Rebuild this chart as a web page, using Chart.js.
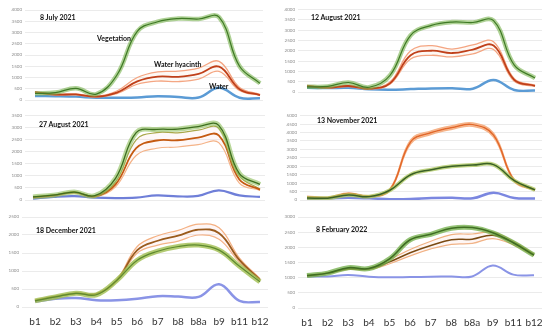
<!DOCTYPE html>
<html>
<head>
<meta charset="utf-8">
<script src="https://cdn.jsdelivr.net/npm/chart.js@4"></script>
<style>
body { margin: 0; background: #fff; width: 550px; height: 328px; position: relative; overflow: hidden; font-family: Lato, "Open Sans", sans-serif; }
.box { position: absolute; }
.note { position: absolute; font-weight: bold; font-size: 7px; line-height: 1; color: #111; white-space: nowrap; }
</style>
</head>
<body>
<div class="box" id="b1" style="left:0;top:0;width:275px;height:110px"><canvas id="c1"></canvas></div>
<div class="box" id="b2" style="left:275px;top:0;width:275px;height:110px"><canvas id="c2"></canvas></div>
<div class="box" id="b3" style="left:0;top:110px;width:275px;height:100px"><canvas id="c3"></canvas></div>
<div class="box" id="b4" style="left:275px;top:110px;width:275px;height:100px"><canvas id="c4"></canvas></div>
<div class="box" id="b5" style="left:0;top:210px;width:275px;height:118px"><canvas id="c5"></canvas></div>
<div class="box" id="b6" style="left:275px;top:210px;width:275px;height:118px"><canvas id="c6"></canvas></div>

<div class="note" style="left:40px;top:14px">8 July 2021</div>
<div class="note" style="left:97px;top:34.5px">Vegetation</div>
<div class="note" style="left:154px;top:60.5px">Water hyacinth</div>
<div class="note" style="left:209px;top:82.5px">Water</div>
<div class="note" style="left:311px;top:13.5px">12 August 2021</div>
<div class="note" style="left:39px;top:120.5px">27 August 2021</div>
<div class="note" style="left:317px;top:116.5px">13 November 2021</div>
<div class="note" style="left:36px;top:226.5px">18 December 2021</div>
<div class="note" style="left:316px;top:225.5px">8 February 2022</div>

<script>
// Sentinel-2 bands
var bands = ['b1', 'b2', 'b3', 'b4', 'b5', 'b6', 'b7', 'b8', 'b8a', 'b9', 'b11', 'b12'];

// 8 July 2021
var jul8Veg    = [290, 330, 520, 260, 1100, 3050, 3480, 3620, 3600, 3680, 1500, 740];
var jul8Hya    = [350, 240, 250, 150, 330, 830, 1040, 1030, 1160, 1480, 480, 220];
var jul8HyaHi  = [370, 260, 270, 170, 400, 1000, 1250, 1280, 1420, 1720, 560, 250];
var jul8HyaLo  = [320, 220, 230, 130, 280, 700, 840, 820, 930, 1270, 420, 200];
var jul8Water  = [180, 170, 150, 100, 100, 110, 170, 130, 110, 540, 100, 80];

// 12 August 2021
var aug12Veg   = [250, 270, 460, 230, 800, 2750, 3230, 3390, 3370, 3460, 1300, 680];
var aug12Hya   = [290, 210, 290, 160, 420, 1780, 2000, 1890, 2060, 2250, 590, 300];
var aug12HyaHi = [320, 230, 320, 180, 480, 2000, 2250, 2080, 2280, 2440, 650, 330];
var aug12HyaLo = [270, 190, 260, 140, 380, 1600, 1780, 1700, 1850, 2060, 520, 270];
var aug12Water = [200, 190, 200, 130, 110, 140, 170, 180, 160, 580, 100, 70];

// 27 August 2021
var aug27Veg   = [130, 200, 330, 180, 900, 2800, 2930, 2940, 3050, 3100, 1100, 650];
var aug27Hya   = [110, 190, 320, 150, 650, 2150, 2470, 2480, 2590, 2680, 850, 430];
var aug27HyaHi = [140, 210, 350, 170, 750, 2500, 2800, 2790, 2900, 2980, 1000, 460];
var aug27HyaLo = [90, 170, 290, 130, 550, 1850, 2150, 2200, 2300, 2380, 700, 400];
var aug27Water = [60, 130, 160, 100, 80, 100, 190, 150, 170, 400, 190, 130];

// 13 November 2021
var nov13Veg   = [120, 110, 300, 200, 580, 1500, 1800, 2000, 2070, 2100, 1150, 600];
var nov13Hya   = [180, 140, 380, 220, 600, 3450, 4000, 4300, 4470, 3850, 1150, 600];
var nov13HyaHi = [220, 170, 420, 250, 650, 3560, 4100, 4400, 4570, 3960, 1200, 620];
var nov13HyaLo = [150, 120, 340, 190, 560, 3340, 3900, 4200, 4370, 3740, 1100, 580];
var nov13Water = [40, 100, 130, 100, 50, 60, 120, 140, 100, 430, 120, 90];

// 18 December 2021
var dec18Veg   = [170, 280, 380, 340, 740, 1300, 1550, 1680, 1720, 1580, 1130, 700];
var dec18Hya   = [180, 290, 380, 360, 740, 1580, 1840, 1980, 2150, 2050, 1300, 760];
var dec18HyaHi = [190, 300, 390, 370, 760, 1680, 1980, 2130, 2300, 2200, 1360, 790];
var dec18HyaLo = [170, 280, 370, 350, 720, 1500, 1720, 1830, 2000, 1880, 1240, 740];
var dec18Water = [150, 230, 250, 190, 190, 230, 300, 290, 280, 630, 170, 140];

// 8 February 2022
var feb8Veg    = [1070, 1150, 1330, 1300, 1620, 2250, 2430, 2630, 2650, 2480, 2150, 1740];
var feb8Hya    = [1060, 1150, 1290, 1290, 1520, 1820, 2060, 2250, 2270, 2400, 2150, 1760];
var feb8HyaHi  = [1080, 1170, 1310, 1310, 1600, 1930, 2200, 2420, 2440, 2500, 2200, 1790];
var feb8HyaLo  = [1050, 1130, 1270, 1270, 1460, 1720, 1950, 2100, 2130, 2290, 2080, 1720];
var feb8Water  = [1040, 1040, 1090, 1030, 1010, 1020, 1030, 1040, 1040, 1400, 1100, 1080];

function pts(arr) {
    return arr.map(function (v, i) { return { x: i, y: v }; });
}

function line(arr, color, width, order, extra) {
    var ds = {
        data: pts(arr),
        borderColor: color,
        borderWidth: width,
        pointRadius: 0,
        tension: 0.4,
        fill: false,
        order: order
    };
    for (var k in extra) ds[k] = extra[k];
    return ds;
}

// box = div rect, area = wanted plot rect (page px), first/last = x of b1 / b12
function makePanel(canvasId, box, area, first, last, yMax, labels, d, st) {
    var u = (last - first) / 11;
    var xMin = -(first - area.l) / u;
    var xMax = 11 + (area.r - last) / u;
    var bottomH = box.top + box.h - area.b;

    new Chart(document.getElementById(canvasId), {
        type: 'line',
        data: {
            datasets: [
                line(d.water, st.water, st.waterW, 5),
                line(d.hyaHi, st.hyaHi, st.edgeW, 4, { fill: { target: 2 }, backgroundColor: st.hyaFill }),
                line(d.hyaLo, st.hyaLo, st.edgeW, 4),
                line(d.hya, st.hya, st.hyaW, 3),
                line(d.veg, st.vegBand, st.vegBandW, 2),
                line(d.veg, st.vegLine, st.vegLineW, 1)
            ]
        },
        options: {
            responsive: true,
            maintainAspectRatio: false,
            animation: false,
            layout: {
                padding: {
                    left: 0,
                    top: area.t - box.top,
                    right: box.left + box.w - area.r,
                    bottom: labels ? 0 : bottomH
                }
            },
            plugins: { legend: { display: false }, tooltip: { enabled: false } },
            scales: {
                x: {
                    type: 'linear',
                    min: xMin,
                    max: xMax,
                    display: labels,
                    grid: { display: false },
                    border: { display: false },
                    afterBuildTicks: function (axis) {
                        axis.ticks = bands.map(function (b, i) { return { value: i }; });
                    },
                    afterFit: function (s) { s.height = bottomH; },
                    ticks: {
                        autoSkip: false,
                        maxRotation: 0,
                        padding: 1,
                        color: '#333',
                        font: { family: 'Lato', size: 10 },
                        callback: function (v) { return bands[v]; }
                    }
                },
                y: {
                    min: 0,
                    max: yMax,
                    afterFit: function (s) { s.width = area.l - box.left; },
                    border: { display: false },
                    grid: { color: '#e3e3e3', lineWidth: 0.7, drawTicks: false },
                    ticks: {
                        stepSize: 500,
                        padding: 3,
                        color: '#8a8a8a',
                        font: { family: 'Lato', size: 4.5 },
                        callback: function (v) { return String(v); }
                    }
                }
            }
        }
    });
}

var summer = {
    vegBand: 'rgba(120,178,78,0.6)', vegBandW: 4.5, vegLine: '#3f7a25', vegLineW: 1.2,
    hya: '#c0401a', hyaW: 1.8, hyaHi: '#f4a582', hyaLo: '#f4a582', edgeW: 1.3,
    hyaFill: 'rgba(248,203,173,0.12)', water: '#5b9bd5', waterW: 2.5
};

makePanel('c1', { left: 0, top: 0, w: 275, h: 110 }, { l: 25, r: 263, t: 10, b: 105 }, 35, 260, 4000, false,
    { veg: jul8Veg, hya: jul8Hya, hyaHi: jul8HyaHi, hyaLo: jul8HyaLo, water: jul8Water }, summer);

makePanel('c2', { left: 275, top: 0, w: 275, h: 110 }, { l: 298, r: 542, t: 9.5, b: 101 }, 307, 535, 4000, false,
    { veg: aug12Veg, hya: aug12Hya, hyaHi: aug12HyaHi, hyaLo: aug12HyaLo, water: aug12Water }, summer);

makePanel('c3', { left: 0, top: 110, w: 275, h: 100 }, { l: 25, r: 265, t: 115, b: 205 }, 33, 260, 3500, false,
    { veg: aug27Veg, hya: aug27Hya, hyaHi: aug27HyaHi, hyaLo: aug27HyaLo, water: aug27Water },
    {
        vegBand: 'rgba(140,190,90,0.6)', vegBandW: 5, vegLine: '#3d6e1f', vegLineW: 1.3,
        hya: '#c55a11', hyaW: 1.8, hyaHi: '#a9a84a', hyaLo: '#f4b183', edgeW: 1.2,
        hyaFill: 'rgba(250,205,205,0.15)', water: '#6f7fd8', waterW: 2.2
    });

makePanel('c4', { left: 275, top: 110, w: 275, h: 100 }, { l: 300, r: 542, t: 115, b: 205 }, 307, 535, 5000, false,
    { veg: nov13Veg, hya: nov13Hya, hyaHi: nov13HyaHi, hyaLo: nov13HyaLo, water: nov13Water },
    {
        vegBand: 'rgba(170,196,90,0.75)', vegBandW: 4, vegLine: '#3a6125', vegLineW: 1.5,
        hya: '#e2682a', hyaW: 1.5, hyaHi: '#f6b48a', hyaLo: '#f6b48a', edgeW: 1.5,
        hyaFill: 'rgba(246,180,138,0.5)', water: '#7b87e0', waterW: 2.5
    });

makePanel('c5', { left: 0, top: 210, w: 275, h: 118 }, { l: 22, r: 268, t: 217, b: 307 }, 35, 260, 2500, true,
    { veg: dec18Veg, hya: dec18Hya, hyaHi: dec18HyaHi, hyaLo: dec18HyaLo, water: dec18Water },
    {
        vegBand: 'rgba(160,190,80,0.8)', vegBandW: 5, vegLine: '#5d8a2e', vegLineW: 1.2,
        hya: '#9a5b1d', hyaW: 1.8, hyaHi: '#f4b183', hyaLo: '#f4b183', edgeW: 1.2,
        hyaFill: 'rgba(250,210,210,0.2)', water: '#8a94e6', waterW: 2.5
    });

makePanel('c6', { left: 275, top: 210, w: 275, h: 118 }, { l: 298, r: 542, t: 217, b: 308 }, 307, 534, 3000, true,
    { veg: feb8Veg, hya: feb8Hya, hyaHi: feb8HyaHi, hyaLo: feb8HyaLo, water: feb8Water },
    {
        vegBand: 'rgba(112,173,71,0.75)', vegBandW: 5, vegLine: '#3f6e22', vegLineW: 1.5,
        hya: '#7a4a12', hyaW: 1.5, hyaHi: '#f0b080', hyaLo: '#f0b080', edgeW: 1.2,
        hyaFill: 'rgba(250,210,200,0.2)', water: '#8a94e6', waterW: 2
    });
</script>
</body>
</html>
